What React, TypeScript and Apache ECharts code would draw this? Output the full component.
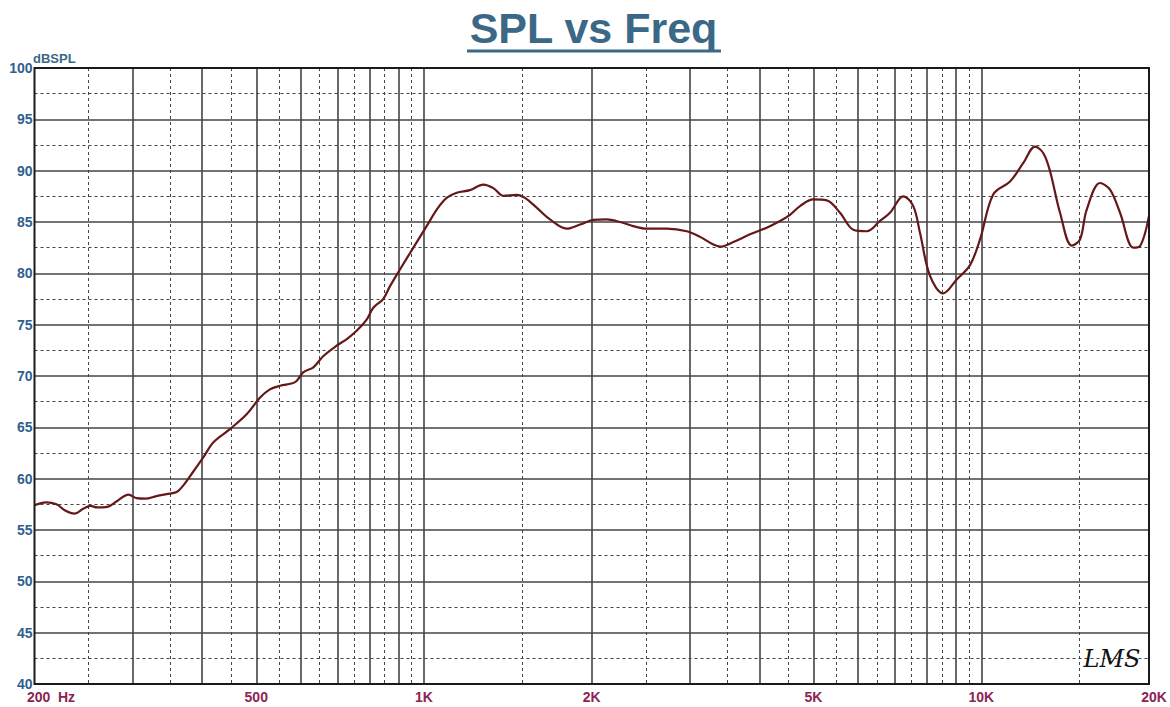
import React, { useEffect, useRef } from "react";
import * as echarts from "echarts";

// Frequency (Hz) and SPL (dB)
const freqHz = [
  200, 202, 210, 219, 227, 236, 245, 252, 259, 270, 281, 295, 305, 316, 331, 345, 360, 370, 385,
  402, 419, 449, 481, 508, 529, 552, 587, 607, 633, 660, 697, 727, 757, 789, 811, 845, 869, 906,
  957, 1011, 1057, 1098, 1145, 1209, 1278, 1332, 1388, 1467, 1518, 1593, 1683, 1803, 1905, 2013,
  2127, 2248, 2374, 2510, 2726, 2962, 3129, 3306, 3398, 3590, 3846, 4121, 4354, 4537, 4729, 4996,
  5281, 5579, 5894, 6229, 6581, 6858, 7246, 7551, 7763, 8092, 8549, 9036, 9546, 9949, 10511,
  11263, 11900, 12489, 12925, 13287, 13848, 14533, 15040, 15462, 16336, 17026, 17744, 18746,
  19270, 20000,
];
const splDb = [
  57.4, 57.5, 57.7, 57.5, 56.9, 56.6, 57.1, 57.35, 57.2, 57.25, 57.8, 58.45, 58.1, 58.05, 58.3,
  58.5, 58.7, 59.35, 60.65, 62.1, 63.55, 64.85, 66.3, 67.9, 68.7, 69.05, 69.4, 70.35, 70.85,
  71.95, 72.95, 73.6, 74.4, 75.5, 76.65, 77.5, 78.75, 80.4, 82.5, 84.6, 86.3, 87.35, 87.85, 88.1,
  88.65, 88.3, 87.55, 87.65, 87.35, 86.4, 85.25, 84.35, 84.75, 85.2, 85.25, 85.0, 84.6, 84.35,
  84.35, 84.1, 83.55, 82.8, 82.6, 83.05, 83.8, 84.45, 85.1, 85.7, 86.55, 87.2, 87.1, 85.9, 84.25,
  84.1, 85.1, 85.9, 87.5, 86.55, 83.95, 79.75, 78.05, 79.4, 80.8, 83.3, 87.7, 88.95, 90.75, 92.35,
  91.7, 89.95, 85.9, 82.7, 83.3, 86.2, 88.8, 88.15, 85.9, 82.5, 82.65, 85.6,
];

// Axis ticks / grid lines
const xLabelValues = [200.001, 500, 1000, 2000, 5000, 10000, 19999.99];
const solidGridFreqs = [
  300, 400, 500, 600, 700, 800, 900, 1000, 2000, 3000, 4000, 5000, 6000, 7000, 8000, 9000, 10000,
];
const dashedGridFreqs = [
  250, 350, 450, 550, 650, 750, 850, 950, 1500, 2500, 3500, 4500, 5500, 6500, 7500, 8500, 9500,
  15000,
];
const yMin = 40;
const yMax = 100;
const yStep = 5;

const TITLE = "SPL vs Freq";
const Y_UNIT = "dBSPL";

export default function App() {
  const ref = useRef<HTMLDivElement>(null);

  useEffect(() => {
    if (!ref.current) return;
    const chart = echarts.init(ref.current, null, { renderer: "svg" });
    const font = "'Liberation Sans', Arial, sans-serif";
    const titleColor = "#3a6886";
    const xLabelColor = "#8c2453";
    const yLabelColor = "#2f5f8f";
    const solidLine = { color: "#444", width: 1.6, type: "solid" as const };
    const dashedLine = { color: "#444", width: 1, type: [3, 3] as any };

    const data = freqHz.map((f, i) => [f, splDb[i]]);

    chart.setOption({
      animation: false,
      backgroundColor: "#ffffff",
      grid: {
        left: 34.5,
        right: 21,
        top: 68,
        bottom: 23,
        show: true,
        borderColor: "#1a1a1a",
        borderWidth: 2,
        backgroundColor: "transparent",
        z: 10,
      },
      xAxis: [
        {
          type: "log",
          logBase: 10,
          min: 200,
          max: 20000,
          axisLine: { show: false },
          axisTick: { show: false, customValues: solidGridFreqs },
          splitLine: { show: true, lineStyle: solidLine },
          minorTick: { show: false },
          axisLabel: {
            show: true,
            customValues: xLabelValues,
            margin: 6,
            color: xLabelColor,
            fontFamily: font,
            fontWeight: "bold",
            fontSize: 14,
            formatter: (v: number) => {
              const r = Math.round(v);
              if (r === 200) return "{a|200  Hz}";
              if (r === 20000) return "{b|20K}";
              if (r >= 1000) return r / 1000 + "K";
              return String(r);
            },
            rich: {
              a: {
                color: xLabelColor,
                fontFamily: font,
                fontWeight: "bold",
                fontSize: 14,
                padding: [0, 0, 0, 33],
              },
              b: {
                color: xLabelColor,
                fontFamily: font,
                fontWeight: "bold",
                fontSize: 14,
                padding: [0, 0, 0, 10],
              },
            },
          },
        },
        {
          type: "log",
          logBase: 10,
          min: 200,
          max: 20000,
          position: "bottom",
          axisLine: { show: false },
          axisTick: { show: false, customValues: dashedGridFreqs },
          axisLabel: { show: false },
          splitLine: { show: true, lineStyle: dashedLine },
        },
      ],
      yAxis: {
        type: "value",
        min: yMin,
        max: yMax,
        interval: yStep,
        axisLine: { show: false },
        axisTick: { show: false },
        splitLine: { show: true, lineStyle: solidLine },
        minorTick: { show: false, splitNumber: 2 },
        minorSplitLine: { show: true, lineStyle: dashedLine },
        axisLabel: {
          margin: 2,
          color: yLabelColor,
          fontFamily: font,
          fontWeight: "bold",
          fontSize: 14,
        },
      },
      series: [
        {
          type: "line",
          xAxisIndex: 0,
          yAxisIndex: 0,
          data,
          showSymbol: false,
          smooth: 0.35,
          lineStyle: { color: "#661818", width: 2.2 },
          z: 5,
        },
      ],
      graphic: [
        {
          type: "text",
          x: 593.5,
          y: 28,
          style: {
            text: TITLE,
            fill: titleColor,
            font: `bold 43px ${font}`,
            textAlign: "center",
            textVerticalAlign: "middle",
          },
        },
        {
          type: "rect",
          shape: { x: 467, y: 49.5, width: 254, height: 3 },
          style: { fill: titleColor },
        },
        {
          type: "text",
          x: 33,
          y: 58,
          style: {
            text: Y_UNIT,
            fill: titleColor,
            font: `bold 13px ${font}`,
            textAlign: "left",
            textVerticalAlign: "middle",
          },
        },
        {
          type: "text",
          x: 1112,
          y: 659,
          z: 20,
          style: {
            text: "LMS",
            fill: "#111",
            font: `italic 24px 'DejaVu Serif', serif`,
            textAlign: "center",
            textVerticalAlign: "middle",
          },
        },
      ],
    });

    return () => chart.dispose();
  }, []);

  return (
    <div
      ref={ref}
      style={{ position: "absolute", left: 0, top: 0, width: 1170, height: 707, background: "#fff" }}
    />
  );
}
